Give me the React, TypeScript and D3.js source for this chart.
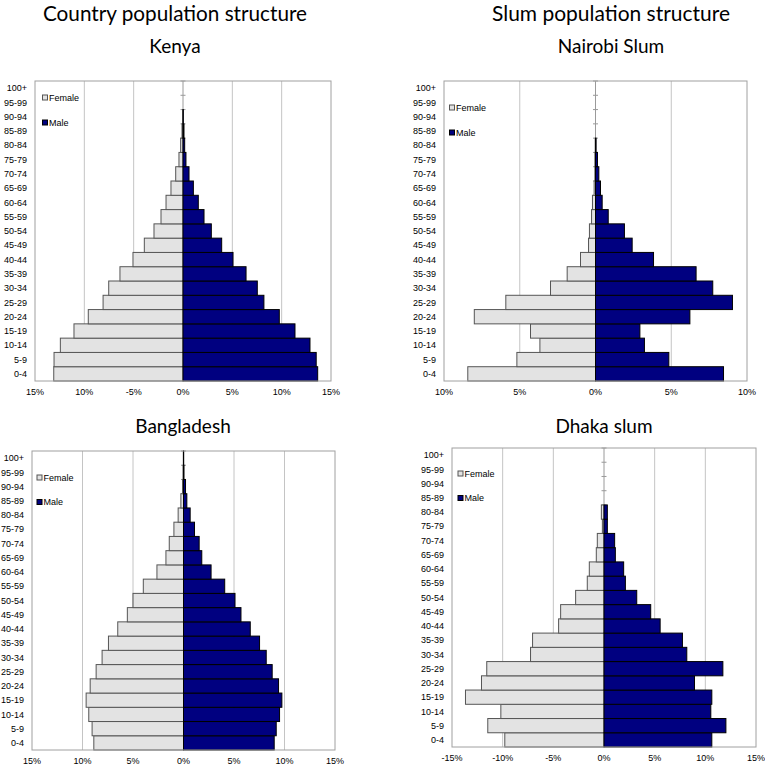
import React from "react";
import * as d3 from "d3";

const ageGroups = [
  "0-4", "5-9", "10-14", "15-19", "20-24", "25-29", "30-34", "35-39", "40-44", "45-49",
  "50-54", "55-59", "60-64", "65-69", "70-74", "75-79", "80-84", "85-89", "90-94", "95-99", "100+",
];

const kenyaFemale = [13.1, 13.07, 12.43, 11.05, 9.6, 8.1, 7.53, 6.39, 5.07, 3.92, 2.94, 2.23, 1.72, 1.22, 0.74, 0.41, 0.24, 0.1, 0.03, 0, 0];
const kenyaMale = [13.65, 13.5, 12.87, 11.35, 9.76, 8.2, 7.53, 6.39, 5.07, 3.92, 2.87, 2.13, 1.55, 1.05, 0.61, 0.3, 0.17, 0.1, 0.03, 0, 0];

const nairobiFemale = [8.43, 5.19, 3.67, 4.29, 8.0, 5.92, 2.97, 1.87, 0.99, 0.46, 0.4, 0.26, 0.2, 0.09, 0.04, 0.04, 0.02, 0, 0, 0, 0];
const nairobiMale = [8.45, 4.84, 3.23, 2.93, 6.23, 9.04, 7.74, 6.64, 3.83, 2.42, 1.91, 0.84, 0.44, 0.33, 0.22, 0.13, 0.04, 0, 0, 0, 0];

const bangladeshFemale = [8.88, 9.05, 9.38, 9.64, 9.24, 8.65, 8.06, 7.43, 6.51, 5.56, 5.0, 3.98, 2.63, 1.74, 1.41, 0.95, 0.53, 0.26, 0.1, 0.05, 0.02];
const bangladeshMale = [8.98, 9.18, 9.51, 9.74, 9.41, 8.78, 8.19, 7.53, 6.61, 5.69, 5.1, 4.08, 2.73, 1.81, 1.55, 1.09, 0.66, 0.33, 0.2, 0.05, 0.02];

const dhakaFemale = [9.79, 11.47, 10.18, 13.67, 12.09, 11.57, 7.25, 7.05, 4.48, 4.28, 2.8, 1.65, 1.45, 0.76, 0.66, 0.16, 0.26, 0, 0, 0, 0];
const dhakaMale = [10.64, 12.03, 10.54, 10.64, 8.93, 11.73, 8.17, 7.74, 5.54, 4.61, 3.23, 2.11, 1.94, 1.12, 1.05, 0.33, 0.33, 0, 0, 0, 0];

const ticks15 = [-15, -10, -5, 0, 5, 10, 15];
const ticks10 = [-10, -5, 0, 5, 10];
const kenyaTickLabels = ["15%", "10%", "-5%", "0%", "5%", "10%", "15%"];
const nairobiTickLabels = ["10%", "5%", "0%", "5%", "10%"];
const bangladeshTickLabels = ["15%", "10%", "5%", "0%", "5%", "10%", "15%"];
const dhakaTickLabels = ["-15%", "-10%", "-5%", "0%", "5%", "10%", "15%"];

const legendLabels = ["Female", "Male"];

const FEMALE_FILL = "#e3e3e3";
const FEMALE_STROKE = "#555555";
const MALE_FILL = "#000080";
const MALE_STROKE = "#000000";
const AXIS_FONT = "'Liberation Sans', Arial, sans-serif";
const TITLE_FONT = "Lato, 'Open Sans', sans-serif";

type PyramidProps = {
  title: string;
  titleX: number;
  titleY: number;
  female: number[];
  male: number[];
  max: number;
  ticks: number[];
  tickLabels: string[];
  x0: number;
  x1: number;
  y0: number;
  y1: number;
  legendX: number;
  legendYF: number;
  legendYM: number;
};

function Pyramid(p: PyramidProps) {
  const x = d3.scaleLinear().domain([-p.max, p.max]).range([p.x0, p.x1]);
  const y = d3
    .scaleBand<string>()
    .domain([...ageGroups].reverse())
    .range([p.y0, p.y1])
    .padding(0);
  const bw = y.bandwidth();
  const zx = x(0);
  return (
    <g>
      <text
        x={p.titleX}
        y={p.titleY}
        textAnchor="middle"
        fontFamily={TITLE_FONT}
        fontSize={19}
        fill="#000"
      >
        {p.title}
      </text>
      {p.ticks
        .filter((t) => t !== 0 && Math.abs(t) !== p.max)
        .map((t) => (
          <line key={"g" + t} x1={x(t)} x2={x(t)} y1={p.y0} y2={p.y1} stroke="#c4c4c4" strokeWidth={1} />
        ))}
      <line x1={zx} x2={zx} y1={p.y0} y2={p.y1} stroke="#9a9a9a" strokeWidth={1} />
      {ageGroups.map((a) => (
        <line key={"t" + a} x1={zx - 2.5} x2={zx + 2.5} y1={y(a) as number} y2={y(a) as number} stroke="#9a9a9a" strokeWidth={1} />
      ))}
      {ageGroups.map((a, i) =>
        p.female[i] > 0 ? (
          <rect
            key={"f" + a}
            x={x(-p.female[i])}
            y={y(a) as number}
            width={zx - x(-p.female[i])}
            height={bw}
            fill={FEMALE_FILL}
            stroke={FEMALE_STROKE}
            strokeWidth={1}
          />
        ) : null
      )}
      {ageGroups.map((a, i) =>
        p.male[i] > 0 ? (
          <rect
            key={"m" + a}
            x={zx}
            y={y(a) as number}
            width={x(p.male[i]) - zx}
            height={bw}
            fill={MALE_FILL}
            stroke={MALE_STROKE}
            strokeWidth={1}
          />
        ) : null
      )}
      <rect x={p.x0} y={p.y0} width={p.x1 - p.x0} height={p.y1 - p.y0} fill="none" stroke="#a0a0a0" strokeWidth={1} />
      {ageGroups.map((a) => (
        <text
          key={"c" + a}
          x={p.x0 - 8}
          y={(y(a) as number) + bw / 2}
          dy="0.35em"
          textAnchor="end"
          fontFamily={AXIS_FONT}
          fontSize={9}
          fill="#000"
        >
          {a}
        </text>
      ))}
      {p.ticks.map((t, i) => (
        <text
          key={"x" + t}
          x={x(t)}
          y={p.y1 + 11}
          dy="0.35em"
          textAnchor="middle"
          fontFamily={AXIS_FONT}
          fontSize={9}
          fill="#000"
        >
          {p.tickLabels[i]}
        </text>
      ))}
      <rect x={p.legendX} y={p.legendYF - 2.5} width={5} height={5} fill={FEMALE_FILL} stroke={FEMALE_STROKE} strokeWidth={1} />
      <text x={p.legendX + 6.5} y={p.legendYF} dy="0.35em" fontFamily={AXIS_FONT} fontSize={9} fill="#000">
        {legendLabels[0]}
      </text>
      <rect x={p.legendX} y={p.legendYM - 2.5} width={5} height={5} fill={MALE_FILL} stroke={MALE_STROKE} strokeWidth={1} />
      <text x={p.legendX + 6.5} y={p.legendYM} dy="0.35em" fontFamily={AXIS_FONT} fontSize={9} fill="#000">
        {legendLabels[1]}
      </text>
    </g>
  );
}

export default function App() {
  return (
    <svg
      width={765}
      height={769}
      viewBox="0 0 765 769"
      style={{ position: "absolute", left: 0, top: 0, background: "#fff" }}
    >
      <rect x={0} y={0} width={765} height={769} fill="#fff" />
      <text x={175} y={21} textAnchor="middle" fontFamily={TITLE_FONT} fontSize={21} fill="#000" textLength={264} lengthAdjust="spacingAndGlyphs">
        Country population structure
      </text>
      <text x={611} y={21} textAnchor="middle" fontFamily={TITLE_FONT} fontSize={21} fill="#000" textLength={238} lengthAdjust="spacingAndGlyphs">
        Slum population structure
      </text>
      <Pyramid
        title="Kenya"
        titleX={175}
        titleY={53}
        female={kenyaFemale}
        male={kenyaMale}
        max={15}
        ticks={ticks15}
        tickLabels={kenyaTickLabels}
        x0={35}
        x1={331}
        y0={81}
        y1={381}
        legendX={42.5}
        legendYF={97.5}
        legendYM={122.5}
      />
      <Pyramid
        title="Nairobi Slum"
        titleX={611}
        titleY={53}
        female={nairobiFemale}
        male={nairobiMale}
        max={10}
        ticks={ticks10}
        tickLabels={nairobiTickLabels}
        x0={444}
        x1={747}
        y0={81}
        y1={381}
        legendX={449.5}
        legendYF={107.5}
        legendYM={132.5}
      />
      <Pyramid
        title="Bangladesh"
        titleX={183}
        titleY={433}
        female={bangladeshFemale}
        male={bangladeshMale}
        max={15}
        ticks={ticks15}
        tickLabels={bangladeshTickLabels}
        x0={32}
        x1={335}
        y0={451}
        y1={750}
        legendX={37}
        legendYF={477.5}
        legendYM={502}
      />
      <Pyramid
        title="Dhaka slum"
        titleX={604}
        titleY={433}
        female={dhakaFemale}
        male={dhakaMale}
        max={15}
        ticks={ticks15}
        tickLabels={dhakaTickLabels}
        x0={452}
        x1={756}
        y0={448}
        y1={747}
        legendX={458}
        legendYF={473.5}
        legendYM={498}
      />
    </svg>
  );
}
